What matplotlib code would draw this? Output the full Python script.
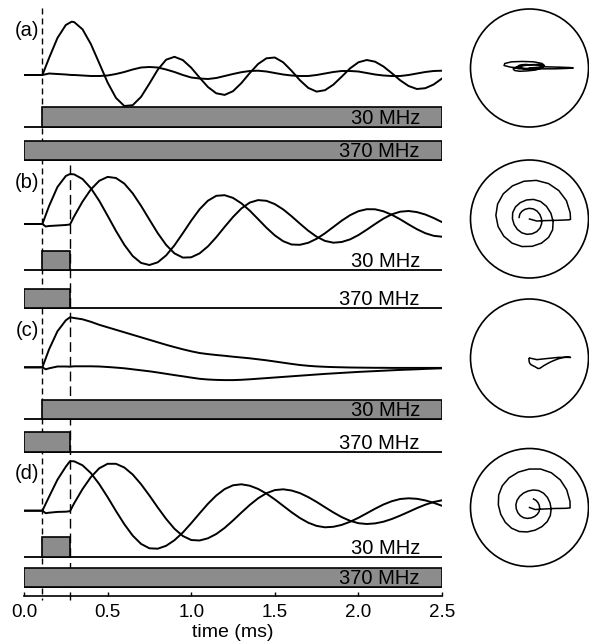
import matplotlib.pyplot as plt
from matplotlib.patches import Circle
import numpy as np

plt.rcParams['font.family'] = ['Liberation Sans', 'DejaVu Sans']

# ---------------------------------------------------------------------------
# Werte (Signal in willkuerlichen Einheiten, t in ms)
tail = [0.30, 0.35, 0.40, 0.45, 0.50, 0.55, 0.60, 0.65, 0.70, 0.75,
        0.80, 0.85, 0.90, 0.95, 1.00, 1.05, 1.10, 1.15, 1.20, 1.25,
        1.30, 1.35, 1.40, 1.45, 1.50, 1.55, 1.60, 1.65, 1.70, 1.75,
        1.80, 1.85, 1.90, 1.95, 2.00, 2.05, 2.10, 2.15, 2.20, 2.25,
        2.30, 2.35, 2.40, 2.45, 2.50]

t_a = [0, 0.11, 0.15, 0.20, 0.25, 0.285] + tail
t_b = [0, 0.11, 0.13, 0.15, 0.20, 0.25, 0.275] + tail

# (a)
a1 = [0, 0, 17, 37, 50, 53.3,
      52.9, 45.7, 30.9, 11.8, -7.5, -22.9, -31.0, -30.2, -21.9, -8.6,
      5.3, 15.3, 18.2, 14.9, 7.3, -2.6, -12.0, -18.3, -19.9, -16.2,
      -8.1, 1.9, 11.0, 16.7, 17.5, 12.7, 4.3, -5.2, -12.9, -16.6,
      -15.2, -9.7, -1.7, 6.6, 12.7, 15.0, 13.3, 8.5, 1.8, -5.3,
      -11.0, -14.0, -13.2, -9.5, -3.5]
a2 = [0, 0, 1.5, 1, 0.5, 0,
      0, -0.5, -1, -1, -0.5, 1, 3, 5.5, 7.5, 8,
      7.5, 5.5, 3, 0, -2.5, -3.5, -4, -3, -1, 1,
      2.8, 4, 4.3, 3.5, 2, 0.5, -0.5, -1, -1, 0,
      1.5, 3, 4, 4, 3.5, 2, 0.5, -0.5, -1, -1,
      0, 1.5, 3, 4, 4.3]

# (b)
b1 = [0, 0, 9, 18, 37, 48, 50,
      49.6, 45.0, 35.8, 23.2, 8.3, -6.9, -20.8, -32.0, -38.9, -41.0,
      -38.3, -31.4, -21.3, -9.2, 3.3, 14.7, 23.3, 28.2, 28.8, 26.1,
      20.7, 13.4, 4.9, -3.7, -11.4, -17.2, -20.5, -20.8, -18.8, -14.8,
      -9.3, -3.0, 3.3, 8.8, 12.8, 14.8, 14.7, 12.7, 9.2, 4.7,
      -0.4, -5.2, -9.2, -11.8, -12.7]
b2 = [0, 0, -2.5, -2, -1.5, -1, -0.5,
      7.7, 22.4, 34.6, 43.2, 47.1, 46.0, 40.4, 30.7, 18.2, 4.4,
      -9.2, -20.9, -29.4, -33.6, -33.3, -29.4, -22.4, -13.2, -2.9, 7.0,
      15.5, 21.4, 23.9, 23.2, 19.9, 14.6, 7.8, 0.4, -6.7, -12.7,
      -16.9, -18.7, -18.0, -15.4, -11.1, -5.7, 0.0, 5.4, 9.7, 12.3,
      13.0, 11.9, 9.5, 6.0, 1.9]

# (c)
c1 = [0, 0, 9, 18, 36, 47, 50,
      49.3, 48.0, 45.5, 42.5, 40.0, 37.5, 35.0, 32.5, 30.0, 27.5,
      25.0, 22.5, 20.2, 18.0, 16.0, 14.3, 13.2, 12.3, 11.5, 10.6,
      9.8, 9.0, 8.0, 7.0, 5.8, 4.6, 3.4, 2.3, 1.5, 0.9,
      0.5, 0.2, 0.0, -0.2, -0.3, -0.4, -0.5, -0.5, -0.6, -0.6,
      -0.6, -0.6, -0.6, -0.6, -0.6]
c2 = [0, 0, -2, -1, 0.8, 0.8, 0.6,
      1, 1, 1, 0.8, 0.3, -0.3, -1, -2, -3, -4,
      -5.2, -6.5, -7.8, -9, -10.3, -11.5, -12.2, -12.6, -12.8, -12.8,
      -12.5, -12, -11.4, -10.8, -10.2, -9.6, -9, -8.4, -7.8, -7.2,
      -6.6, -6.1, -5.6, -5.1, -4.6, -4.2, -3.8, -3.4, -3.0, -2.6,
      -2.3, -2.0, -1.6, -1.3, -1.0]

# (d)
d1 = [0, 0, 7, 14, 31, 44, 49.5,
      49.4, 45.4, 37.6, 26.6, 13.6, -0.3, -13.5, -24.9, -33.2, -37.6,
      -38.0, -35.1, -29.5, -21.8, -12.5, -2.7, 6.9, 15.2, 21.6, 25.4,
      26.4, 25.0, 21.8, 17.1, 11.3, 4.9, -1.5, -7.3, -12.0, -15.2,
      -16.6, -16.1, -14.2, -11.1, -7.1, -2.6, 2.0, 6.2, 9.5, 11.7,
      12.4, 11.9, 10.3, 7.9, 4.9]
d2 = [0, 0, -2.5, -2, -1.2, -1, -0.5,
      7.4, 21.6, 33.6, 42.4, 46.9, 46.9, 43.2, 36.2, 26.5, 15.2,
      3.2, -8.2, -18.1, -25.3, -29.3, -29.8, -27.6, -23.3, -17.2, -9.8,
      -1.9, 5.7, 12.4, 17.5, 20.6, 21.4, 20.2, 17.6, 13.6, 8.8,
      3.5, -1.7, -6.4, -10.1, -12.5, -13.3, -12.7, -11.0, -8.3, -4.9,
      -1.2, 2.6, 6.0, 8.7, 10.4]

panel_names = ['(a)', '(b)', '(c)', '(d)']
# Pulszeiten (ms): 30 MHz und 370 MHz
on30_start = [0.11, 0.11, 0.11, 0.11]
on30_end = [2.5, 0.275, 2.5, 0.275]
on370_start = [0.0, 0.0, 0.0, 0.0]
on370_end = [2.5, 0.275, 0.275, 2.5]
t_marks = [0.11, 0.275]
xticks = [0.0, 0.5, 1.0, 1.5, 2.0, 2.5]

# ---------------------------------------------------------------------------
# Layout (Pixelzeilen im Bild)
W, H = 589, 643
y_base = [75, 224, 367.3, 510.7]
y_row30 = [126.7, 270, 419.3, 556.7]
y_row370 = [160, 308.3, 451.7, 587.3]
y_label = [31, 183, 330, 473.3]
y_circle = [68, 219, 358, 507.5]
bar_h = 19.5
grey = '#8c8c8c'

times = [t_a, t_b, t_b, t_b]
sig1 = [a1, b1, c1, d1]
sig2 = [a2, b2, c2, d2]

fig = plt.figure(figsize=(W / 100, H / 100), dpi=100)
ax = fig.add_axes([24 / W, 47 / H, 418 / W, 596 / H])
ax.set_xlim(0, 2.5)
ax.set_ylim(596, 0)

for i in range(4):
    t = np.array(times[i])
    ax.plot(t, y_base[i] - np.array(sig1[i]), color='k', lw=1.4)
    ax.plot(t, y_base[i] - np.array(sig2[i]), color='k', lw=1.4)

    # Pulsbalken
    for yb, t0, t1, lab in [(y_row30[i], on30_start[i], on30_end[i], '30 MHz'),
                            (y_row370[i], on370_start[i], on370_end[i], '370 MHz')]:
        ax.hlines(yb, 0, 2.5, color='k', lw=1.3)
        ax.bar(t0, -bar_h, width=t1 - t0, bottom=yb, align='edge',
               color=grey, edgecolor='k', linewidth=1.2, zorder=3)
        ax.text(2.368, yb - 3, lab, ha='right', va='baseline',
                fontsize=14.5, zorder=4)

    ax.text(0.09, y_label[i], panel_names[i], ha='right', va='center',
            fontsize=14.5)

# gestrichelte Markierungen
ax.plot([t_marks[0], t_marks[0]], [8, 600], color='k', lw=1.0,
        dashes=(4.3, 2.9), clip_on=False)
ax.plot([t_marks[1], t_marks[1]], [165, 600], color='k', lw=1.0,
        dashes=(7, 3.6), clip_on=False)

for s in ['top', 'left', 'right']:
    ax.spines[s].set_visible(False)
ax.spines['bottom'].set_linewidth(1.2)
ax.set_yticks([])
ax.set_xticks(xticks)
ax.set_xticklabels(['%.1f' % v for v in xticks])
ax.tick_params(axis='x', direction='in', length=3, width=1.0,
               labelsize=13.5, pad=6)
ax.set_xlabel('time (ms)', fontsize=14, labelpad=2)
ax.patch.set_visible(False)

# Kreise rechts (Trajektorie sig1 gegen sig2)
for i in range(4):
    cax = fig.add_axes([(529.5 - 66) / W, (H - y_circle[i] - 66) / H,
                        132 / W, 132 / H])
    cax.set_xlim(-66, 66)
    cax.set_ylim(-66, 66)
    cax.axis('off')
    cax.add_patch(Circle((0, 0), 59, fill=False, lw=1.2, color='k',
                         clip_on=False))
    cax.plot(0.82 * np.array(sig1[i]), 0.82 * np.array(sig2[i]),
             color='k', lw=1.1)

plt.savefig('out.png', dpi=100)
